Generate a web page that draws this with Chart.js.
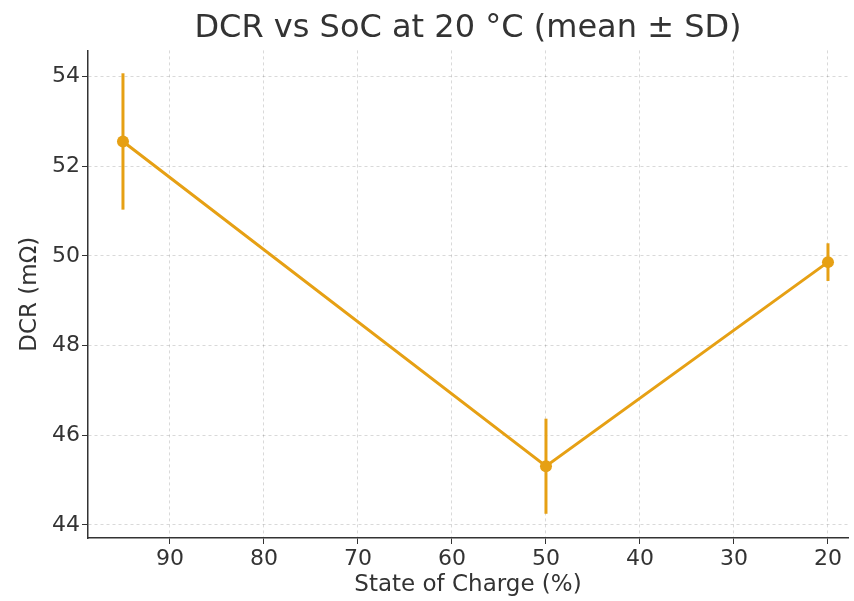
<!DOCTYPE html>
<html>
<head>
<meta charset="utf-8">
<title>DCR vs SoC</title>
<script src="https://cdn.jsdelivr.net/npm/chart.js@4.4.1/dist/chart.umd.min.js"></script>
<style>
  html, body { margin: 0; padding: 0; background: #fff; }
  #wrap { width: 854px; height: 601px; }
</style>
</head>
<body>
<div id="wrap"><canvas id="dcrChart" width="854" height="601"></canvas></div>
<script>
// DCR measured at three state-of-charge levels, 20 °C
const socLevels = [95, 50, 20];
const dcrMean = [52.55, 45.31, 49.86];
const dcrSd = [1.52, 1.06, 0.42];

const xTicks = [90, 80, 70, 60, 50, 40, 30, 20];
const yTicks = [44, 46, 48, 50, 52, 54];

const orange = 'rgb(230,160,20)';
const textColor = '#333333';
const fontFamily = "'DejaVu Sans', sans-serif";

// vertical ± SD whiskers, drawn under the line and markers
const errorBars = {
  id: 'errorBars',
  beforeDatasetsDraw(chart) {
    const { ctx, scales: { x, y } } = chart;
    ctx.save();
    ctx.strokeStyle = orange;
    ctx.lineWidth = 3;
    socLevels.forEach((s, i) => {
      const px = x.getPixelForValue(s);
      ctx.beginPath();
      ctx.moveTo(px, y.getPixelForValue(dcrMean[i] - dcrSd[i]));
      ctx.lineTo(px, y.getPixelForValue(dcrMean[i] + dcrSd[i]));
      ctx.stroke();
    });
    ctx.restore();
  }
};

const ctx = document.getElementById('dcrChart').getContext('2d');

new Chart(ctx, {
  type: 'line',
  data: {
    datasets: [{
      label: 'DCR',
      data: socLevels.map((s, i) => ({ x: s, y: dcrMean[i] })),
      borderColor: orange,
      backgroundColor: orange,
      borderWidth: 3,
      pointRadius: 6,
      pointBorderWidth: 0,
      tension: 0,
      fill: false
    }]
  },
  options: {
    responsive: false,
    animation: false,
    layout: { padding: 0 },
    plugins: {
      legend: { display: false },
      tooltip: { enabled: false },
      title: {
        display: true,
        fullSize: false,
        text: 'DCR vs SoC at 20 °C (mean ± SD)',
        color: textColor,
        font: { family: fontFamily, size: 32, weight: 'normal' },
        padding: { top: 9, bottom: 3 }
      }
    },
    scales: {
      x: {
        type: 'linear',
        reverse: true,
        min: 17.87,
        max: 98.72,
        afterBuildTicks: (scale) => { scale.ticks = xTicks.map(v => ({ value: v })); },
        afterFit: (scale) => {
          scale.height = 63;
          scale.paddingLeft = 0;
          scale.paddingRight = 0;
        },
        ticks: {
          color: textColor,
          font: { family: fontFamily, size: 22 },
          padding: 2,
          maxRotation: 0
        },
        grid: {
          color: 'rgba(0,0,0,0.15)',
          tickColor: textColor,
          tickLength: 6,
          lineWidth: 1
        },
        border: { display: true, color: textColor, width: 1.5, dash: [3, 3] },
        title: {
          display: true,
          text: 'State of Charge (%)',
          color: textColor,
          font: { family: fontFamily, size: 23 },
          padding: { top: 0, bottom: 2 }
        }
      },
      y: {
        type: 'linear',
        min: 43.71,
        max: 54.58,
        afterBuildTicks: (scale) => { scale.ticks = yTicks.map(v => ({ value: v })); },
        afterFit: (scale) => {
          scale.width = 88;
          scale.paddingTop = 0;
          scale.paddingBottom = 0;
        },
        ticks: {
          color: textColor,
          font: { family: fontFamily, size: 22 },
          padding: 2
        },
        grid: {
          color: 'rgba(0,0,0,0.15)',
          tickColor: textColor,
          tickLength: 6,
          lineWidth: 1
        },
        border: { display: true, color: textColor, width: 1.5, dash: [3, 3] },
        title: {
          display: true,
          text: 'DCR (mΩ)',
          color: textColor,
          font: { family: fontFamily, size: 23 },
          padding: { top: 16, bottom: 0 }
        }
      }
    }
  },
  plugins: [errorBars]
});
</script>
</body>
</html>
